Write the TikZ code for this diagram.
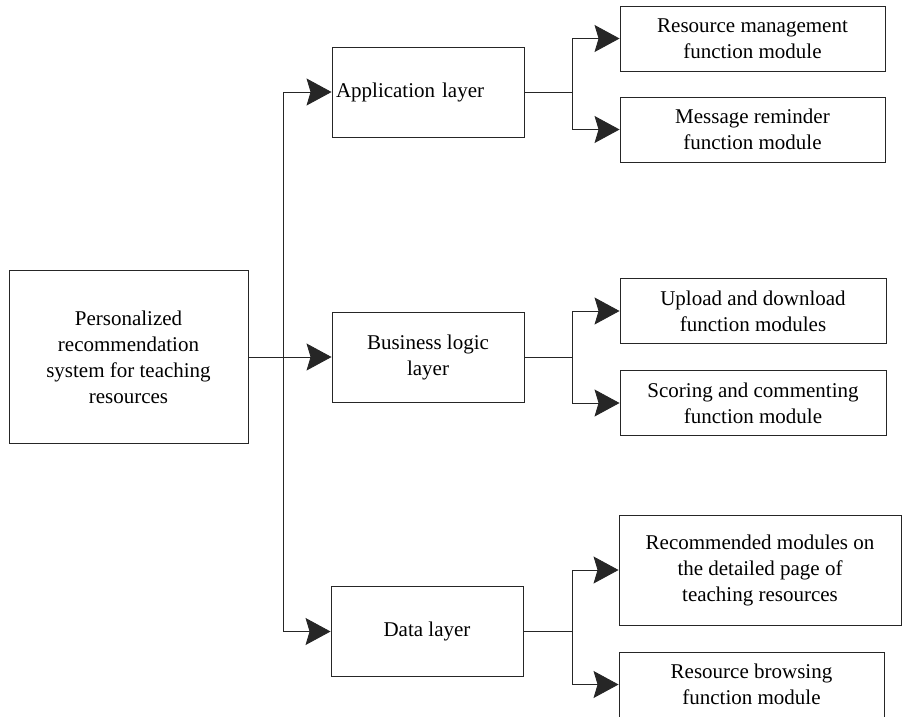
\documentclass[tikz,border=0pt]{standalone}
\usepackage{fontspec}
\setmainfont{Liberation Serif}
\usetikzlibrary{positioning, arrows.meta, calc}

\begin{document}
\begin{tikzpicture}[
    x=1pt, y=-1pt,
    line width=0.9pt, draw=black!85,
    every node/.style={draw=black!85, line width=0.9pt, align=center, inner sep=2pt,
        font=\fontsize{21}{26}\selectfont},
    layer/.style={minimum width=192pt, minimum height=90pt},
    module/.style={minimum width=265pt, minimum height=65pt},
    >={Stealth[length=25pt, width=27pt, inset=4pt]}
]
\useasboundingbox (0,0) rectangle (903,716);
\clip (0,0) rectangle (903,716);

% Draw the boxes
\node[minimum width=239pt, minimum height=173pt] (sys) at (128.5,357)
    {Personalized\\recommendation\\system for teaching\\resources};

\node[layer, text width=184pt, align=left, inner sep=4pt] (app) at (428,92) {Application layer};
\node[layer] (bus) at (428,357) {Business logic\\layer};
\node[layer] (dat) at (427,631.5) {Data layer};

\node[module] (res) at (752.5,38.5) {Resource management\\function module};
\node[module] (msg) at (752.5,129.5) {Message reminder\\function module};
\node[module, minimum width=266pt] (upl) at (753,311) {Upload and download\\function modules};
\node[module, minimum width=266pt] (sco) at (753,403) {Scoring and commenting\\function module};
\node[module, minimum width=282pt, minimum height=110pt] (rec) at (760,570)
    {Recommended modules on\\the detailed page of\\teaching resources};
\node[module] (brw) at (751.5,684.5) {Resource browsing\\function module};

% Draw the connectors
\coordinate (trunk) at (283,357);
\draw[->] (sys.east) -- (bus.west);
\draw[->] (trunk) |- (app.west);
\draw[->] (trunk) |- (dat.west);

\coordinate (appfork) at (572,92);
\coordinate (busfork) at (572,357);
\coordinate (datfork) at (572,631.5);
\draw (app.east) -- (appfork);
\draw (bus.east) -- (busfork);
\draw (dat.east) -- (datfork);
\draw[->] (appfork) |- (res.west);
\draw[->] (appfork) |- (msg.west);
\draw[->] (busfork) |- (upl.west);
\draw[->] (busfork) |- (sco.west);
\draw[->] (datfork) |- (rec.west);
\draw[->] (datfork) |- (brw.west);

\end{tikzpicture}
\end{document}
